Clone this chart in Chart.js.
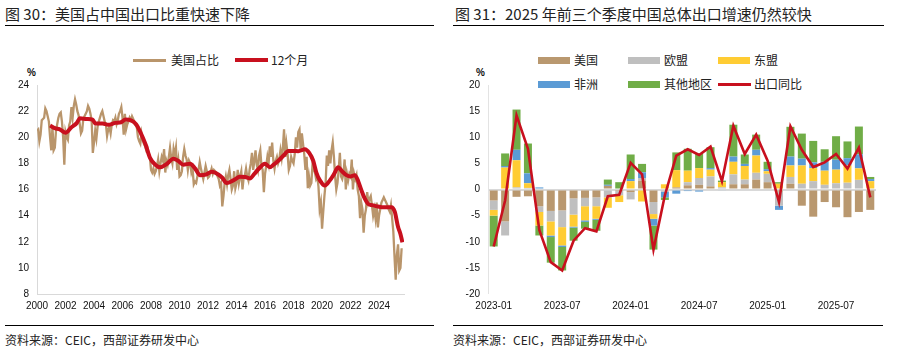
<!DOCTYPE html>
<html><head><meta charset="utf-8">
<script src="https://cdn.jsdelivr.net/npm/chart.js@4.4.1/dist/chart.umd.min.js"></script>
<style>
body{margin:0;width:897px;height:352px;background:#fff;position:relative;overflow:hidden;font-family:"Noto Sans CJK SC","Liberation Sans",sans-serif;}
.t{position:absolute;white-space:nowrap;line-height:1;color:#222;}
.title{font-size:15px;top:6px;}
.foot{font-size:12px;top:334px;color:#222;}
.rule{position:absolute;height:0;border-top:1.5px solid #000;}
.pct{position:absolute;font-family:"Liberation Sans",Arial,sans-serif;font-size:10px;font-weight:bold;color:#111;}
.lg{position:absolute;font-size:12px;line-height:1;color:#222;white-space:nowrap;}
.sw{position:absolute;width:32px;height:7px;}
.ln{position:absolute;width:33px;}
canvas{position:absolute;top:0;}
</style>
</head><body>
<div class="t title" style="left:5px;">图 30：美国占中国出口比重快速下降</div>
<div class="rule" style="left:5px;top:25px;width:429px;"></div>
<div class="t title" style="left:455px;">图 31：2025 年前三个季度中国总体出口增速仍然较快</div>
<div class="rule" style="left:453px;top:25px;width:431px;"></div>

<div class="ln" style="left:133px;top:59px;height:3px;background:#B9956B;"></div>
<div class="lg" style="left:171px;top:54px;">美国占比</div>
<div class="ln" style="left:235px;top:58px;height:4px;background:#C8101E;"></div>
<div class="lg" style="left:271px;top:54px;">12个月</div>
<div class="pct" style="left:27px;top:67px;">%</div>

<div class="sw" style="left:538px;top:57px;background:#B9986F;"></div><div class="lg" style="left:574px;top:54px;">美国</div>
<div class="sw" style="left:628px;top:57px;background:#BFBFBF;"></div><div class="lg" style="left:664px;top:54px;">欧盟</div>
<div class="sw" style="left:718px;top:57px;background:#FFCC33;"></div><div class="lg" style="left:754px;top:54px;">东盟</div>
<div class="sw" style="left:538px;top:81px;background:#5B9BD5;"></div><div class="lg" style="left:574px;top:78px;">非洲</div>
<div class="sw" style="left:628px;top:81px;background:#70AD47;"></div><div class="lg" style="left:664px;top:78px;">其他地区</div>
<div class="ln" style="left:718px;top:83px;height:3px;background:#C8101E;"></div><div class="lg" style="left:754px;top:78px;">出口同比</div>
<div class="pct" style="left:476px;top:67px;">%</div>

<div class="rule" style="left:5px;top:325px;width:429px;"></div>
<div class="rule" style="left:453px;top:325px;width:430px;"></div>
<div class="t foot" style="left:5px;">资料来源：CEIC，西部证券研发中心</div>
<div class="t foot" style="left:453px;">资料来源：CEIC，西部证券研发中心</div>

<canvas id="c1" width="440" height="330" style="left:0;"></canvas>
<canvas id="c2" width="447" height="330" style="left:450px;"></canvas>
<script>
// ---------- Left chart data: US share of China's exports (%), monthly from 2000-01 ----------
const startYear = 2000;
const usShare = [
 20.5,20.6,19.7,20.2,21.3,21.4,21.5,22.2,22.0,21.6,21.2,20.0,
 19.0,20.8,19.0,19.2,20.5,21.0,21.5,21.8,21.9,21.2,20.0,17.9,
 20.4,20.0,19.8,20.9,21.2,22.3,21.5,22.4,22.9,22.5,22.0,21.7,
 21.0,20.3,20.5,21.4,21.6,21.8,22.0,22.4,22.2,21.8,21.3,18.8,
 19.6,20.5,19.9,20.8,21.2,21.5,21.8,22.0,21.6,21.2,21.0,20.1,
 20.6,20.8,20.3,21.0,21.3,21.2,21.5,21.0,21.3,21.8,22.0,22.3,
 21.5,20.2,21.8,20.6,21.0,21.2,21.5,21.3,21.6,21.4,21.2,20.9,
 20.8,20.0,19.7,19.5,20.3,19.8,19.5,19.3,19.0,19.2,18.8,18.5,
 17.5,17.3,17.6,17.2,17.4,17.8,18.3,17.4,18.0,18.5,18.2,19.1,
 17.3,18.2,17.9,18.5,19.2,18.4,18.0,19.1,18.6,19.2,17.5,18.2,
 17.0,17.1,17.4,18.5,19.1,18.6,18.3,17.5,18.2,18.0,17.3,17.6,
 16.4,16.6,16.5,17.0,17.5,18.1,17.6,17.2,16.8,17.3,17.8,17.4,
 16.9,17.0,17.3,17.6,17.2,17.5,17.4,17.3,17.0,16.8,16.3,16.5,
 14.7,15.5,16.5,17.0,16.4,17.1,17.5,16.8,16.0,16.3,17.4,16.1,
 16.5,17.5,16.5,17.0,17.4,16.0,16.9,17.1,17.6,17.0,16.7,17.5,
 18.0,18.8,17.5,18.2,19.0,17.9,17.5,18.6,19.0,17.8,17.5,15.8,
 17.2,17.8,18.5,18.0,19.3,18.5,19.6,18.2,17.6,18.2,18.5,18.0,
 18.3,19.0,18.4,19.2,20.6,18.5,19.5,18.7,17.5,17.8,18.5,18.2,
 18.0,18.7,20.0,19.2,20.4,20.6,19.0,20.3,19.5,18.7,17.5,18.5,
 16.1,17.0,16.3,16.5,18.0,17.5,17.3,16.8,17.0,16.2,14.5,15.0,
 13.0,14.3,15.5,16.5,18.6,17.8,19.0,18.0,19.0,19.6,18.5,17.0,
 16.0,16.5,17.5,18.8,17.0,16.8,17.2,18.3,16.0,17.2,16.7,17.2,
 17.0,18.3,16.0,17.2,16.8,17.1,16.0,15.5,13.8,15.0,14.5,12.7,
 14.0,14.5,15.8,15.0,15.3,15.5,14.8,14.0,14.5,13.8,15.0,13.1,
 14.0,14.5,15.0,15.2,15.4,15.2,15.0,14.8,14.5,14.3,14.8,13.8,
 12.8,10.9,9.1,11.0,11.8,9.8,10.0,11.5
];
// 12-month rolling line, read at dates (decimal years)
const r12Dates = [2000.92,2001.25,2001.6,2002.0,2002.4,2002.8,2003.0,2003.5,2003.9,2004.1,2004.6,2005.0,2005.5,2005.9,2006.2,2006.6,2006.95,2007.25,2007.6,2007.94,2008.3,2008.64,2009.1,2009.57,2009.9,2010.27,2010.74,2011.1,2011.44,2011.85,2012.26,2012.72,2013.0,2013.31,2013.78,2014.24,2014.6,2014.94,2015.25,2015.53,2015.99,2016.34,2016.6,2016.93,2017.3,2017.63,2018.0,2018.33,2018.8,2019.1,2019.38,2019.6,2019.85,2020.2,2020.55,2020.85,2021.13,2021.4,2021.71,2022.0,2022.3,2022.55,2022.76,2023.0,2023.23,2023.5,2023.81,2024.2,2024.6,2024.87,2025.1,2025.33,2025.5,2025.64];
const r12Values = [20.9,20.7,20.6,20.35,20.75,21.1,21.45,21.4,21.35,21.05,21.05,20.95,21.1,21.15,21.35,21.3,21.0,20.4,19.5,18.4,17.9,17.7,17.95,18.35,18.2,17.9,17.98,17.6,17.1,17.15,17.35,17.15,16.9,16.5,16.7,16.97,16.95,16.85,17.2,17.55,17.98,17.7,17.9,18.2,18.6,18.95,18.95,18.93,19.08,18.8,18.2,17.3,16.7,16.3,16.7,17.2,17.7,17.4,17.1,17.0,17.1,16.6,15.95,15.3,14.9,14.8,14.73,14.65,14.65,14.65,14.3,13.15,12.6,11.95];
const leftYearTicks = [2000,2002,2004,2006,2008,2010,2012,2014,2016,2018,2020,2022,2024];

// ---------- Right chart data: contribution to export growth (ppt) ----------
const months = ['2023-01','2023-02','2023-03','2023-04','2023-05','2023-06','2023-07','2023-08','2023-09','2023-10','2023-11','2023-12',
 '2024-01','2024-02','2024-03','2024-04','2024-05','2024-06','2024-07','2024-08','2024-09','2024-10','2024-11','2024-12',
 '2025-01','2025-02','2025-03','2025-04','2025-05','2025-06','2025-07','2025-08','2025-09','2025-10'];
const usContrib    = [-2.1,-6.1,-1.4,-1.3,-3.2,-4.1,-4.0,-1.7,-1.6,-1.5, 0.7,-0.3,-0.5, 1.7,-2.4, 0.0, 0.4, 0.8, 0.9, 0.6, 0.0, 1.0, 1.0, 1.9, 1.4,-0.4, 1.1,-3.1,-5.2,-2.4,-3.4,-5.3,-4.3,-3.9];
const euContrib    = [-1.8,-2.7, 0.4, 0.3,-1.1,-2.0,-3.2,-3.1,-1.6,-1.7,-1.5,-0.8,-1.4, 0.5,-2.3,-0.4,-0.2, 0.6, 1.3, 1.9, 0.4, 1.9, 0.9, 1.3, 1.6,-2.7, 1.3, 1.1, 1.6, 0.9, 1.2, 1.3, 1.85, 0.2];
const aseanContrib = [-1.1, 4.2, 5.2, 0.9,-2.6,-2.7,-3.5,-2.3,-2.7,-2.4,-2.0,-1.3, 1.6,-2.3,-0.9, 1.0, 3.3, 2.2, 1.9, 1.3, 1.0, 2.4, 2.6, 3.3, 0.5, 1.1, 2.2, 3.5, 2.5, 2.7, 2.6, 3.3, 2.2, 1.4];
const africaContrib= [ 0.0, 0.3, 2.0, 1.9, 0.4,-0.3,-0.3,-0.2,-0.3,-0.2, 0.2, 0.0, 0.4, 1.1,-1.3,-1.1,-0.6,-0.3,-0.4, 0.3,-0.2, 1.0, 0.4, 1.1, 0.4,-0.8, 1.7, 1.3, 1.1, 1.7, 1.9, 1.4, 2.7, 0.4];
const otherContrib = [-5.9, 2.4, 7.7, 5.7,-1.9,-4.9,-4.5,-2.5,-1.3,-2.1, 1.0, 1.4, 4.7, 1.6,-4.6,-0.5, 3.4, 4.2, 2.8, 4.0, 0.3, 6.1, 1.8, 2.9, 1.4, 0.3, 5.7, 4.8, 4.1, 2.4, 4.5, 3.2, 5.3, 0.4];
const exportYoY    = [-10.9,-2.1,14.2,7.8,-7.8,-13.9,-15.5,-9.8,-7.4,-8.0,-1.3,-1.0,5.1,2.9,-11.5,-1.1,6.5,7.7,6.6,8.2,1.6,12.2,6.8,10.5,5.5,-2.4,12.1,7.6,4.3,5.2,6.8,4.0,8.0,-1.5];

const tickFont = {family:'"Liberation Sans", Arial, sans-serif', size:10};
const tickColor = '#111';

// ---------- Left chart ----------
new Chart(document.getElementById('c1'), {
  type:'line',
  data:{datasets:[
    {label:'12个月', data:r12Dates.map((d,i)=>({x:d,y:r12Values[i]})), borderColor:'#C8101E', borderWidth:4, pointRadius:0, cubicInterpolationMode:'monotone', order:0},
    {label:'美国占比', data:usShare.map((v,i)=>({x:startYear+i/12,y:v})), borderColor:'#B9956B', borderWidth:2.3, pointRadius:0, tension:0, order:1}
  ]},
  options:{
    responsive:false, animation:false, devicePixelRatio:1,
    layout:{padding:{top:85,right:36,left:0,bottom:0}},
    plugins:{legend:{display:false},tooltip:{enabled:false}},
    scales:{
      x:{type:'linear', min:2000, max:2025.75,
        afterBuildTicks:s=>{s.ticks=leftYearTicks.map(v=>({value:v}));},
        afterFit:s=>{s.height=36;},
        ticks:{font:tickFont,color:tickColor,padding:6,maxRotation:0,autoSkip:false,callback:v=>String(v)},
        grid:{display:false,drawTicks:false}, border:{display:true,color:'#d9d9d9',width:1}},
      y:{min:8,max:24,
        afterFit:s=>{s.width=37;},
        ticks:{stepSize:2,font:tickFont,color:tickColor,padding:8},
        grid:{display:false,drawTicks:false}, border:{display:true,color:'#d9d9d9',width:1}}
    }
  }
});

// ---------- Right chart ----------
const barDs = (label,data,color)=>({type:'bar',label,data,backgroundColor:color,stack:'bars',order:1,barPercentage:0.7,categoryPercentage:1.0});
new Chart(document.getElementById('c2'), {
  type:'bar',
  data:{labels:months, datasets:[
    barDs('美国',usContrib,'#B9986F'),
    barDs('欧盟',euContrib,'#BFBFBF'),
    barDs('东盟',aseanContrib,'#FFCC33'),
    barDs('非洲',africaContrib,'#5B9BD5'),
    barDs('其他地区',otherContrib,'#70AD47'),
    {type:'line',label:'出口同比',data:exportYoY,borderColor:'#C8101E',borderWidth:2.6,pointRadius:0,tension:0,stack:'line',order:0}
  ]},
  options:{
    responsive:false, animation:false, devicePixelRatio:1,
    layout:{padding:{top:85,right:21,left:0,bottom:0}},
    plugins:{legend:{display:false},tooltip:{enabled:false}},
    scales:{
      x:{stacked:true, offset:true,
        afterFit:s=>{s.height=36;},
        ticks:{font:tickFont,color:tickColor,padding:6,maxRotation:0,autoSkip:false,callback:(v,i)=>i%6===0?months[i]:''},
        grid:{display:false,drawTicks:false}, border:{display:false}},
      y:{stacked:true,min:-20,max:20,
        afterFit:s=>{s.width=38;},
        ticks:{stepSize:5,font:tickFont,color:tickColor,padding:8},
        grid:{drawTicks:false,color:c=>(c.tick&&c.tick.value===0)?'#d9d9d9':'rgba(0,0,0,0)',lineWidth:c=>(c.tick&&c.tick.value===0)?2:0},
        border:{display:true,color:'#e3e3e3',width:1}}
    }
  }
});
</script>
</body></html>
